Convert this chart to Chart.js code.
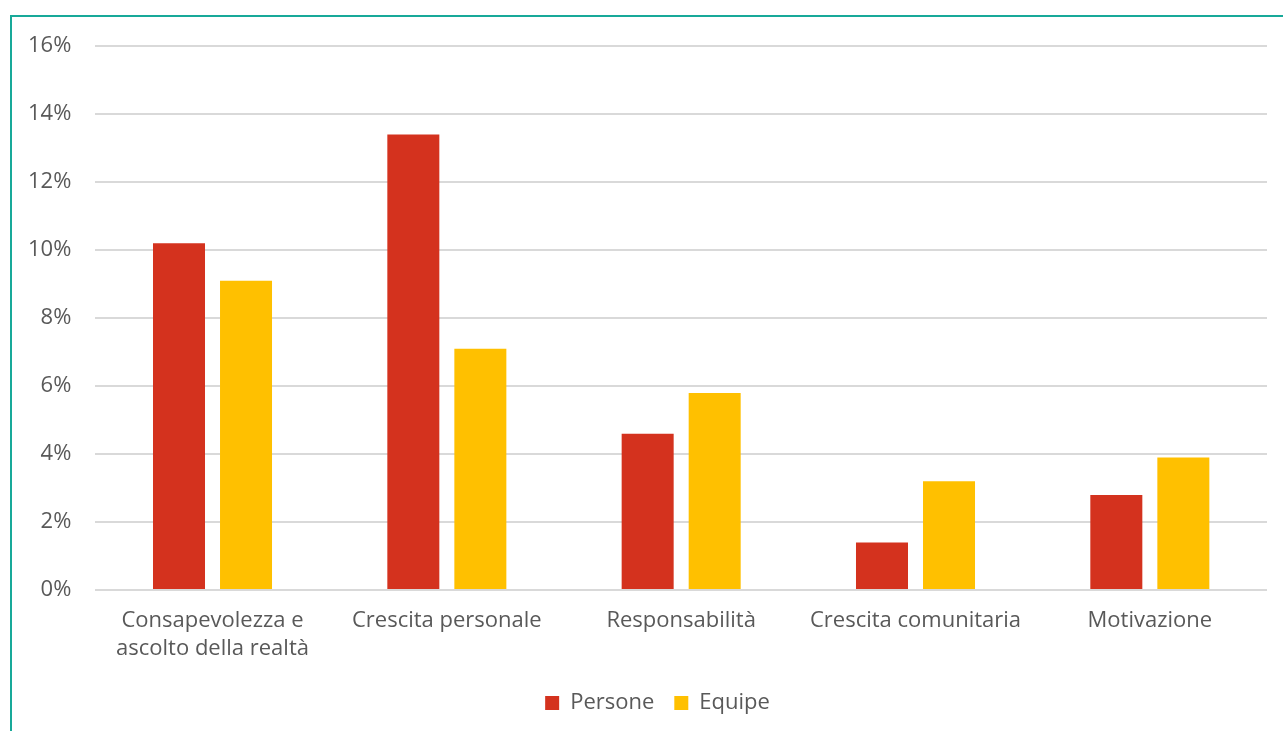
<!DOCTYPE html>
<html>
<head>
<meta charset="utf-8">
<script src="https://cdn.jsdelivr.net/npm/chart.js@4/dist/chart.umd.min.js"></script>
<style>
  html, body { margin: 0; padding: 0; background: #fff; }
  #wrap { position: relative; width: 1283px; height: 731px; overflow: hidden; }
  #frame { position: absolute; left: 10px; top: 15px; width: 1300px; height: 800px;
           border-left: 2px solid #18A999; border-top: 2px solid #18A999; }
  #box { position: absolute; left: 0; top: 0; width: 1283px; height: 731px; }
</style>
</head>
<body>
<div id="wrap">
  <div id="frame"></div>
  <div id="box"><canvas id="chart"></canvas></div>
</div>
<script>
const categories = [
    ['Consapevolezza e', 'ascolto della realtà'],
    'Crescita personale',
    'Responsabilità',
    'Crescita comunitaria',
    'Motivazione'
];
const persone = [10.2, 13.4, 4.6, 1.4, 2.8];
const equipe = [9.1, 7.1, 5.8, 3.2, 3.9];

const textColor = '#595959';
const fontFamily = '"Open Sans", "Liberation Sans", sans-serif';

Chart.defaults.font.family = fontFamily;
Chart.defaults.font.size = 22;
Chart.defaults.color = textColor;

// nudge the legend a bit to the right, like the original
const legendShift = {
    id: 'legendShift',
    afterLayout(chart) {
        if (chart.legend) {
            chart.legend.left += 22;
            chart.legend.right += 22;
        }
    }
};

const ctx = document.getElementById('chart').getContext('2d');
new Chart(ctx, {
    type: 'bar',
    data: {
        labels: categories,
        datasets: [
            { label: 'Persone', data: persone, backgroundColor: '#D4321E' },
            { label: 'Equipe', data: equipe, backgroundColor: '#FFC000' }
        ]
    },
    options: {
        responsive: true, maintainAspectRatio: false, animation: false,
        categoryPercentage: 0.572,
        barPercentage: 0.776,
        layout: { padding: { left: 4, right: 16, top: 46, bottom: 7 } },
        plugins: {
            legend: {
                position: 'bottom',
                labels: { boxWidth: 14, boxHeight: 14, padding: 20, font: { size: 22 } }
            },
            tooltip: { enabled: false }
        },
        scales: {
            x: {
                grid: { display: false },
                border: { display: false },
                ticks: { maxRotation: 0, padding: 9, font: { size: 22, lineHeight: 1.27 } }
            },
            y: {
                min: 0, max: 16,
                ticks: { stepSize: 2, padding: 24, callback: v => v + '%', font: { size: 22 } },
                grid: { color: '#D9D9D9', lineWidth: 2, drawTicks: false },
                border: { display: false }
            }
        }
    },
    plugins: [legendShift]
});
</script>
</body>
</html>
